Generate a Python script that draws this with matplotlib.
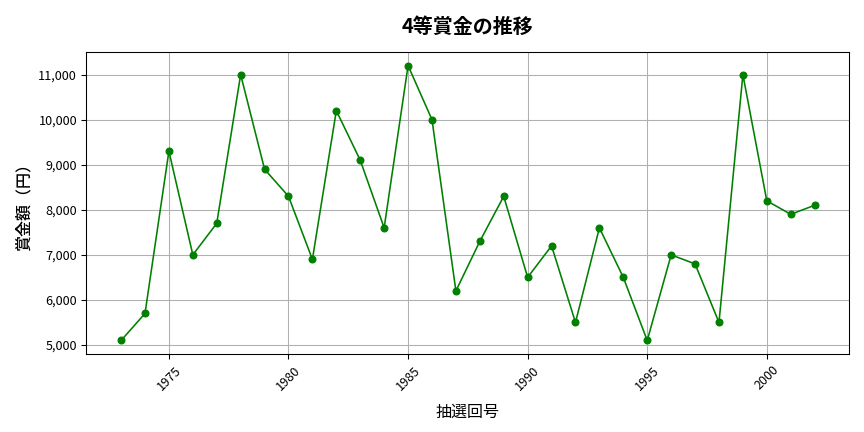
import matplotlib
matplotlib.use("Agg")
import matplotlib.pyplot as plt
from matplotlib.ticker import FuncFormatter

plt.rcParams['font.family'] = ['Noto Sans CJK JP', 'DejaVu Sans']

draws = list(range(1973, 2003))
prize = [5100, 5700, 9300, 7000, 7700, 11000, 8900, 8300, 6900, 10200,
         9100, 7600, 11200, 10000, 6200, 7300, 8300, 6500, 7200, 5500,
         7600, 6500, 5100, 7000, 6800, 5500, 11000, 8200, 7900, 8100]

fig, ax = plt.subplots(figsize=(9, 4.5), dpi=96)
ax.plot(draws, prize, color='green', marker='o', markersize=5, linewidth=1.2)

ax.set_title('4等賞金の推移', fontsize=15, fontweight='bold', pad=14)
ax.set_xlabel('抽選回号', fontsize=12, labelpad=8)
ax.set_ylabel('賞金額（円）', fontsize=12, fontweight='medium')
ax.yaxis.set_major_formatter(FuncFormatter(lambda v, p: f'{int(v):,}'))
ax.tick_params(axis='x', labelrotation=45)
ax.tick_params(labelsize=9.5)
ax.grid(True, color='#b0b0b0', linewidth=0.8)

fig.subplots_adjust(left=0.1, right=0.983, top=0.88, bottom=0.18)
fig.savefig('out.png')
